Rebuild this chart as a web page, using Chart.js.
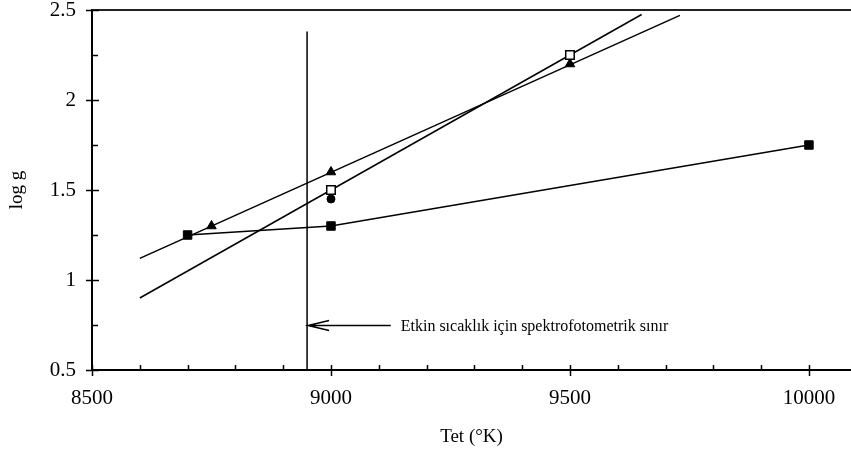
<!DOCTYPE html>
<html>
<head>
<meta charset="utf-8">
<script src="https://cdn.jsdelivr.net/npm/chart.js@4.4.1/dist/chart.umd.min.js"></script>
<style>
  html, body { margin: 0; padding: 0; background: #ffffff; }
  #wrap { width: 851px; height: 452px; position: relative; }
</style>
</head>
<body>
<div id="wrap"><canvas id="c" width="851" height="452"></canvas></div>
<script>
// ---- data ----
const filledSqT = [8700, 9000, 10000];
const filledSqG = [1.25, 1.3, 1.75];

const triangleT = [8750, 9000, 9500];
const triangleG = [1.3, 1.6, 2.2];
const triangleFitT = [8600, 9730];
const triangleFitG = [1.12, 2.47];

const openSqT = [9000, 9500];
const openSqG = [1.5, 2.25];
const openSqFitT = [8600, 9650];
const openSqFitG = [0.9, 2.475];

const circleT = [9000];
const circleG = [1.45];

const limitT = [8950, 8950];
const limitG = [0.5, 2.38];

const arrowStartT = 8950;
const arrowEndT = 9125;
const arrowG = 0.75;
const arrowText = 'Etkin sıcaklık için spektrofotometrik sınır';

const xTickLabels = [8500, 9000, 9500, 10000];
const yTickLabels = [0.5, 1, 1.5, 2, 2.5];
const xMinorStep = 100;
const yMinorStep = 0.25;

const xTitle = 'Tet (°K)';
const yTitle = 'log g';

// ---- helpers ----
const pts = (xs, ys) => xs.map((x, i) => ({ x: x, y: ys[i] }));
const FONT = 'Liberation Serif';

const tickMarks = {
  id: 'tickMarks',
  afterDraw(chart) {
    const ctx = chart.ctx;
    const xs = chart.scales.x, ys = chart.scales.y;
    const ca = chart.chartArea;
    ctx.save();
    // top border
    ctx.beginPath();
    ctx.strokeStyle = '#222';
    ctx.lineWidth = 2;
    ctx.moveTo(ca.left, ca.top);
    ctx.lineTo(ca.right, ca.top);
    ctx.stroke();
    ctx.strokeStyle = '#000';
    ctx.lineWidth = 1.5;
    // x ticks
    for (let v = xs.min; v <= 10000 + 1e-6; v += xMinorStep) {
      const px = Math.round(xs.getPixelForValue(v)) + 0.5;
      const major = xTickLabels.some(t => Math.abs(t - v) < 1e-6);
      ctx.beginPath();
      if (major) { ctx.moveTo(px, ca.bottom - 5); ctx.lineTo(px, ca.bottom + 6); }
      else { ctx.moveTo(px, ca.bottom); ctx.lineTo(px, ca.bottom - 5); }
      ctx.stroke();
    }
    // y ticks
    for (let v = ys.min; v <= ys.max + 1e-6; v += yMinorStep) {
      const py = Math.round(ys.getPixelForValue(v)) + 0.5;
      const major = yTickLabels.some(t => Math.abs(t - v) < 1e-6);
      ctx.beginPath();
      if (major) { ctx.moveTo(ca.left - 6, py); ctx.lineTo(ca.left + 7, py); }
      else { ctx.moveTo(ca.left, py); ctx.lineTo(ca.left + 6, py); }
      ctx.stroke();
    }
    // annotation arrow + text
    const x0 = xs.getPixelForValue(arrowStartT) + 1;
    const x1 = xs.getPixelForValue(arrowEndT);
    const y0 = Math.round(ys.getPixelForValue(arrowG)) + 0.5;
    ctx.lineWidth = 1.5;
    ctx.beginPath();
    ctx.moveTo(x0, y0); ctx.lineTo(x1, y0);
    ctx.moveTo(x0 + 21, y0 - 5); ctx.lineTo(x0, y0); ctx.lineTo(x0 + 21, y0 + 5);
    ctx.stroke();
    ctx.fillStyle = '#000';
    ctx.font = '16px "' + FONT + '"';
    ctx.textAlign = 'left';
    ctx.textBaseline = 'middle';
    ctx.fillText(arrowText, x1 + 10, y0 + 1);
    ctx.restore();
  }
};

const lineStyle = { borderColor: '#000', borderWidth: 1.5, pointRadius: 0, showLine: true, fill: false, tension: 0 };

new Chart(document.getElementById('c'), {
  type: 'scatter',
  data: {
    datasets: [
      { data: pts(circleT, circleG), pointStyle: 'circle', pointRadius: 4, backgroundColor: '#000', borderColor: '#000', borderWidth: 1, showLine: false },
      { data: pts(openSqT, openSqG), pointStyle: 'rect', pointRadius: 6, backgroundColor: '#fff', borderColor: '#000', borderWidth: 1.5, showLine: false },
      { data: pts(triangleT, triangleG), pointStyle: 'triangle', pointRadius: 5.5, backgroundColor: '#000', borderColor: '#000', borderWidth: 1, showLine: false },
      Object.assign({ data: pts(filledSqT, filledSqG), pointStyle: 'rect', pointRadius: 6, pointBackgroundColor: '#000', pointBorderColor: '#000', pointBorderWidth: 1 }, { borderColor: '#000', borderWidth: 1.5, showLine: true, fill: false, tension: 0 }),
      Object.assign({ data: pts(triangleFitT, triangleFitG) }, lineStyle),
      Object.assign({ data: pts(openSqFitT, openSqFitG) }, lineStyle),
      Object.assign({ data: pts(limitT, limitG) }, lineStyle)
    ]
  },
  options: {
    responsive: false,
    animation: false,
    devicePixelRatio: 1,
    layout: { autoPadding: false, padding: { top: 10, right: 0, left: 0, bottom: 0 } },
    plugins: { legend: { display: false }, tooltip: { enabled: false } },
    scales: {
      x: {
        type: 'linear',
        min: 8500,
        max: 10088,
        afterBuildTicks: (s) => { s.ticks = xTickLabels.map(v => ({ value: v })); },
        afterFit: (s) => { s.height = 82; s.paddingLeft = 0; s.paddingRight = 0; },
        grid: { display: false, drawTicks: false },
        border: { display: true, color: '#000', width: 2 },
        ticks: { color: '#000', font: { family: FONT, size: 21 }, padding: 16, maxRotation: 0, autoSkip: false, callback: (v) => String(v) },
        title: { display: true, text: xTitle, color: '#000', font: { family: FONT, size: 19 }, padding: { top: 0, bottom: 4 } }
      },
      y: {
        type: 'linear',
        min: 0.5,
        max: 2.5,
        afterBuildTicks: (s) => { s.ticks = yTickLabels.map(v => ({ value: v })); },
        afterFit: (s) => { s.width = 92; s.paddingTop = 0; s.paddingBottom = 0; },
        grid: { display: false, drawTicks: false },
        border: { display: true, color: '#000', width: 2 },
        ticks: { color: '#000', font: { family: FONT, size: 21 }, padding: 16, autoSkip: false, callback: (v) => String(v) },
        title: { display: true, text: yTitle, color: '#000', font: { family: FONT, size: 19 }, padding: { top: 6, bottom: 0 } }
      }
    }
  },
  plugins: [tickMarks]
});
</script>
</body>
</html>
